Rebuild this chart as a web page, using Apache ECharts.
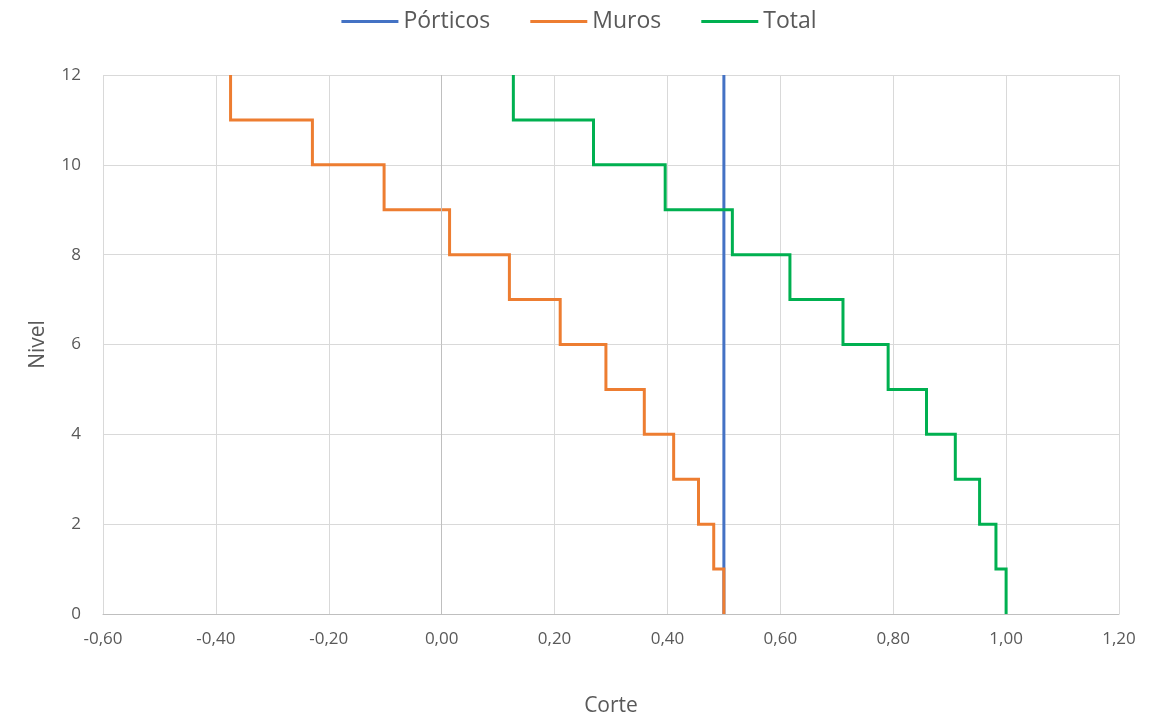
<!DOCTYPE html>
<html>
<head>
<meta charset="utf-8">
<script src="https://cdn.jsdelivr.net/npm/echarts@6/dist/echarts.min.js"></script>
<style>html,body{margin:0;padding:0;background:#fff}#c{width:1158px;height:718px}</style>
</head>
<body>
<div id="c"></div>
<script>
// Story levels (top of story), from level 12 down to level 1
var storyTops = [12, 11, 10, 9, 8, 7, 6, 5, 4, 3, 2, 1];
// Shear per story (Corte)
var porticosValues = [0.50, 0.50, 0.50, 0.50, 0.50, 0.50, 0.50, 0.50, 0.50, 0.50, 0.50, 0.50];
var murosValues = [-0.374, -0.229, -0.102, 0.014, 0.120, 0.210, 0.291, 0.359, 0.411, 0.455, 0.482, 0.500];
var totalValues = [0.127, 0.269, 0.396, 0.515, 0.617, 0.711, 0.791, 0.859, 0.910, 0.953, 0.982, 1.000];
var seriesNames = ['Pórticos', 'Muros', 'Total'];
var xTicks = {min: -0.6, max: 1.2, interval: 0.2};
var yTicks = {min: 0, max: 12, interval: 2};

function steps(vals) {
  var pts = [];
  for (var i = 0; i < storyTops.length; i++) {
    pts.push([vals[i], storyTops[i]]);
    pts.push([vals[i], storyTops[i] - 1]);
  }
  return pts;
}

var txt = '#595959';
var font = '"Open Sans", "Noto Sans", sans-serif';
var chart = echarts.init(document.getElementById('c'), null, {renderer: 'canvas'});
function mk(name, vals, color, extra) {
  var s = {
    name: name, type: 'line', data: steps(vals), symbol: 'none', showSymbol: false,
    lineStyle: {color: color, width: 3, join: 'miter'}, itemStyle: {color: color},
    animation: false, silent: true
  };
  if (extra) for (var k in extra) s[k] = extra[k];
  return s;
}
chart.setOption({
  animation: false,
  textStyle: {fontFamily: font},
  legend: {
    top: 5, left: 'center', icon: 'rect', itemWidth: 57, itemHeight: 3, itemGap: 40,
    textStyle: {color: txt, fontSize: 23, fontFamily: font},
    data: seriesNames
  },
  grid: {left: 103, right: 39, top: 75, bottom: 104, outerBoundsMode: 'none', containLabel: false},
  xAxis: {
    type: 'value', min: xTicks.min, max: xTicks.max, interval: xTicks.interval,
    name: 'Corte', nameLocation: 'middle', nameGap: 82,
    nameTextStyle: {color: txt, fontSize: 21, fontFamily: font},
    axisLine: {show: true, onZero: false, lineStyle: {color: '#BFBFBF'}},
    axisTick: {show: false},
    axisLabel: {color: txt, fontSize: 17, margin: 17, fontFamily: font,
      formatter: function (v) { return v.toFixed(2).replace('.', ','); }},
    splitLine: {show: true, lineStyle: {color: '#D9D9D9', width: 1}}
  },
  yAxis: {
    type: 'value', min: yTicks.min, max: yTicks.max, interval: yTicks.interval,
    name: 'Nivel', nameLocation: 'middle', nameGap: 54, nameRotate: 90,
    nameTextStyle: {color: txt, fontSize: 21, fontFamily: font},
    axisLine: {show: false, onZero: false},
    axisTick: {show: false},
    axisLabel: {color: txt, fontSize: 17, margin: 22, fontFamily: font},
    splitLine: {show: true, lineStyle: {color: '#D9D9D9', width: 1}}
  },
  series: [
    mk(seriesNames[0], porticosValues, '#4472C4', {
      markLine: {silent: true, symbol: 'none', label: {show: false},
        lineStyle: {color: '#BFBFBF', width: 1, type: 'solid'},
        data: [{xAxis: 0}], animation: false}, z: 2
    }),
    mk(seriesNames[1], murosValues, '#ED7D31', {z: 3}),
    mk(seriesNames[2], totalValues, '#00B050', {z: 4})
  ]
});
</script>
</body>
</html>
